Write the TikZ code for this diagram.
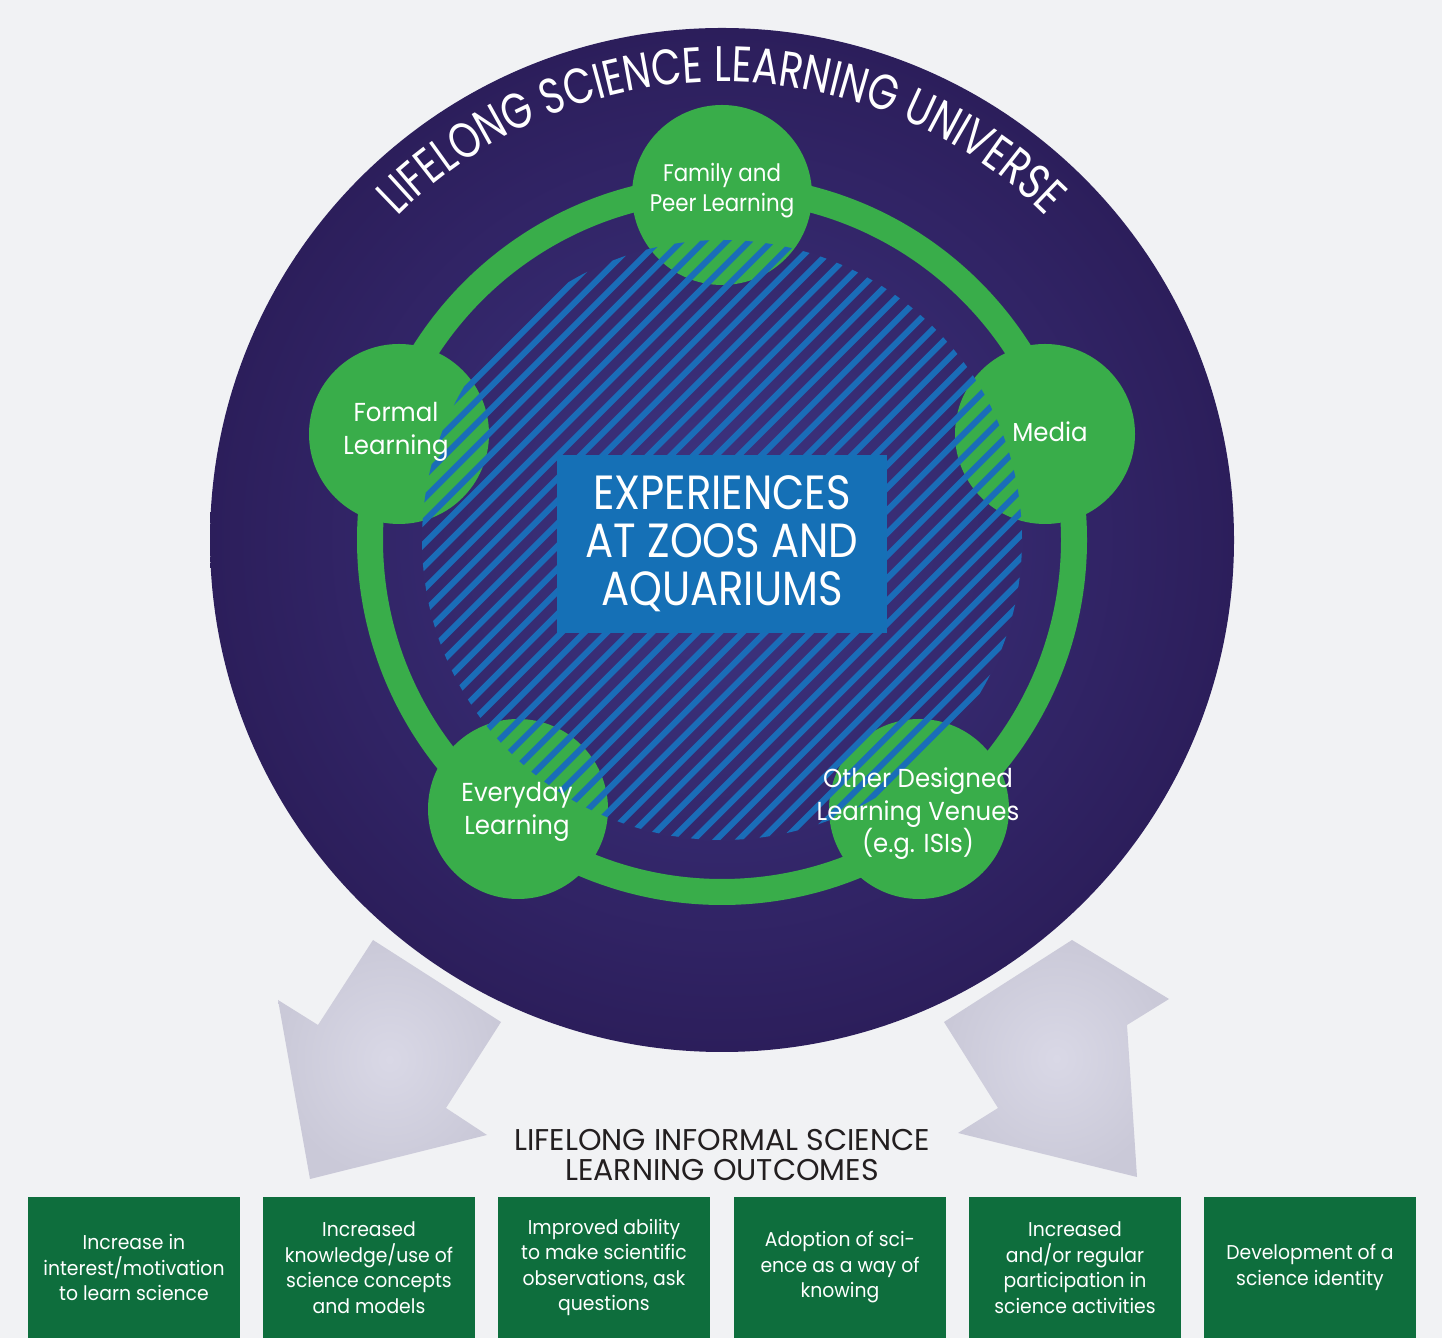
\documentclass[tikz,border=0pt]{standalone}
\usepackage{fontspec}
\setmainfont{Poppins}
\newfontfamily\bookfont[FakeStretch=0.94]{Poppins}
\newfontfamily\topfont[FakeStretch=0.89]{Poppins}
\newfontfamily\capfont[FakeStretch=0.87]{Poppins}
\newfontfamily\condfont[FakeStretch=0.78]{Poppins}
\usetikzlibrary{calc,decorations.text,shadings}
\definecolor{bg}{HTML}{F1F2F4}
\definecolor{uniouter}{HTML}{2C1E5B}
\definecolor{uniinner}{HTML}{3F3583}
\definecolor{ringgreen}{HTML}{39AD4A}
\definecolor{hatchblue}{HTML}{1A6DB8}
\definecolor{boxblue}{HTML}{1570B6}
\definecolor{outgreen}{HTML}{0E6E3D}
\definecolor{arrowouter}{HTML}{CAC9D8}
\definecolor{arrowinner}{HTML}{D9D8E6}
\definecolor{titledark}{HTML}{231F20}
\begin{document}
\begin{tikzpicture}[x=1pt,y=1pt,
  gcirc/.style={circle,fill=ringgreen,minimum size=180pt,inner sep=0pt},
  clabel/.style={text=white,align=center,inner sep=0pt,font={\bookfont\fontsize{26}{32.5}\selectfont}},
  expbox/.style={fill=boxblue,text=white,align=center,minimum width=330pt,minimum height=178pt,inner sep=0pt,font={\capfont\fontsize{48}{48}\selectfont}},
  outbox/.style={fill=outgreen,text=white,align=center,minimum width=212pt,minimum height=141pt,inner sep=0pt,font={\bookfont\fontsize{20}{25.5}\selectfont}},
  bigarrow/.style={inner color=arrowinner,outer color=arrowouter}]
\fill[bg] (0,0) rectangle (1442,1338);
\useasboundingbox (0,0) rectangle (1442,1338);
\coordinate (C) at (722,798);
% big arrows
\shade[bigarrow] (373,398) -- (501,316) -- (446,230) -- (487,203) -- (310,159) -- (278,338) -- (318,313) -- cycle;
\shade[bigarrow] (1072,398) -- (1169,339) -- (1127,313) -- (1137,161) -- (958,205) -- (998,230) -- (944,316) -- cycle;
% universe
\shade[inner color=uniinner,outer color=uniouter] (C) circle (512);
\draw[ringgreen,line width=26pt] (C) circle (352);
\node[gcirc] (fam) at (722,1143) {};
\node[gcirc] (form) at (399,904) {};
\node[gcirc] (med) at (1045,904) {};
\node[gcirc] (ev) at (518,529) {};
\node[gcirc] (oth) at (919,529) {};
% hatching
\begin{scope}
\clip (C) circle (300);
\foreach \k in {-20,...,20} {
  \draw[hatchblue,line width=6pt] ($(C)+(\k*11.31,-\k*11.31)+(-226,-226)$) -- ++(452,452);
}
\end{scope}
\node[expbox] (exp) at (722,794) {EXPERIENCES\\AT ZOOS AND\\AQUARIUMS};
\node[clabel,font={\topfont\fontsize{24}{30}\selectfont}] (famtext) at (722,1147) {Family and\\Peer Learning};
\node[clabel] (formtext) at (396,906) {Formal\\Learning};
\node[clabel] (medtext) at (1050,906) {Media};
\node[clabel] (evtext) at (517,526) {Everyday\\Learning};
\node[clabel] (othtext) at (918,524) {Other Designed\\Learning Venues\\(e.g. ISIs)};
% arc title
\path[color=white,decorate,decoration={text along path,text align=center,text format delimiters={|}{|},
  text={|\condfont\fontsize{50}{50}\selectfont\color{white}|LIFELONG SCIENCE LEARNING UNIVERSE}}]
  ($(C)+(155:458)$) arc[start angle=155,end angle=25,radius=458];
% outcomes
\node[text=titledark,align=center,inner sep=0pt,font={\fontsize{30}{30}\selectfont}] (outtitle) at (722,183) {LIFELONG INFORMAL SCIENCE\\LEARNING OUTCOMES};
\node[outbox] (o1) at (134,70.5) {Increase in\\interest/motivation\\to learn science};
\node[outbox] (o2) at (369,70.5) {Increased\\knowledge/use of\\science concepts\\and models};
\node[outbox] (o3) at (604,70.5) {Improved ability\\to make scientific\\observations, ask\\questions};
\node[outbox] (o4) at (840,70.5) {Adoption of sci-\\ence as a way of\\knowing};
\node[outbox] (o5) at (1075,70.5) {Increased\\and/or regular\\participation in\\science activities};
\node[outbox] (o6) at (1310,70.5) {Development of a\\science identity};
\end{tikzpicture}
\end{document}
